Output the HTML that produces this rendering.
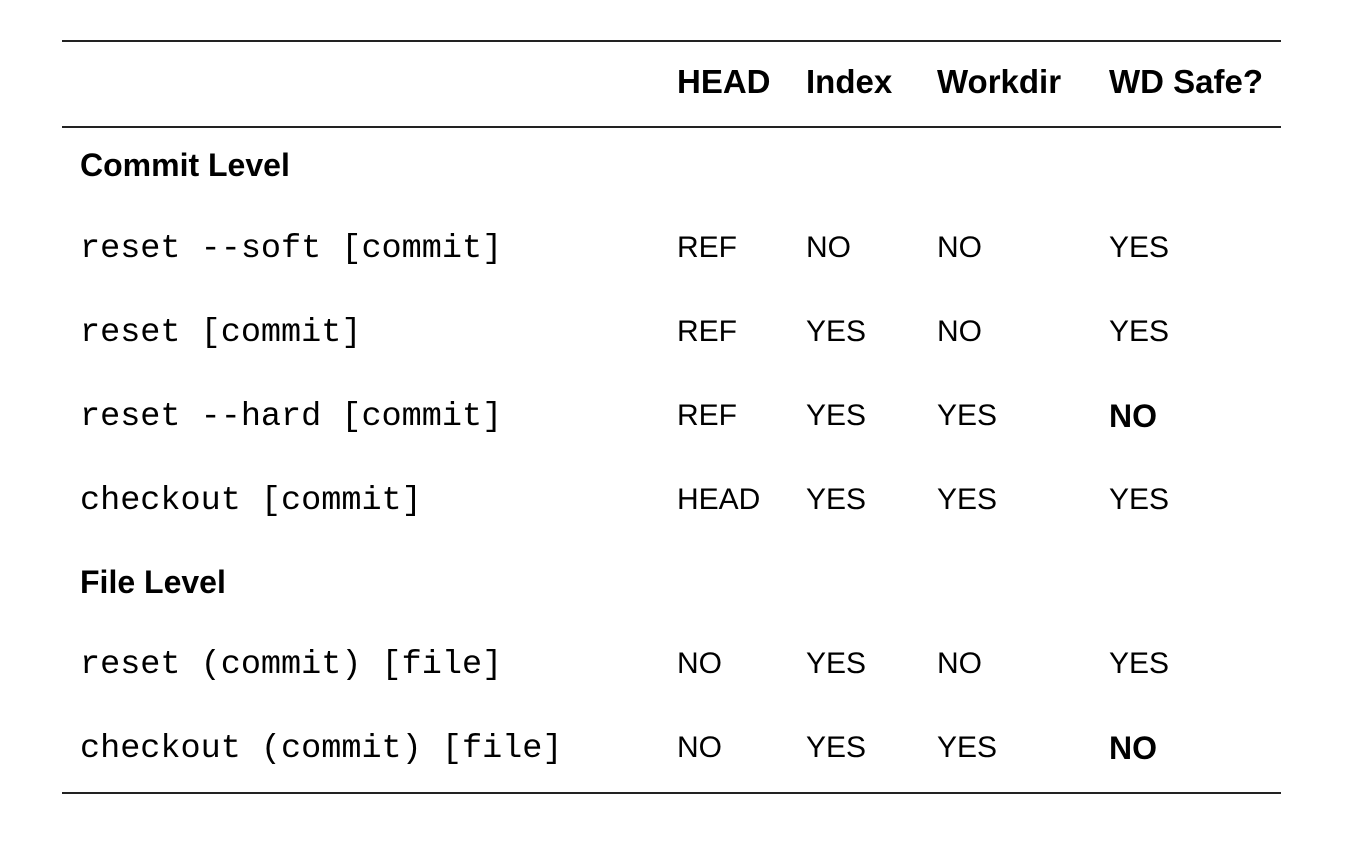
<!DOCTYPE html>
<html><head><meta charset="utf-8"><style>
body{margin:0;width:1350px;height:846px;background:#fff;position:relative;overflow:hidden;font-family:"Liberation Sans",sans-serif;color:#000}
.l{position:absolute;left:62px;width:1219px;height:2px;background:#222}
.t{position:absolute;height:40px;line-height:40px;font-size:30px;white-space:nowrap}
.b{font-weight:bold;font-size:32px}
.h{font-size:33px}
.m{font-family:"Liberation Mono",monospace;font-size:33.5px}
</style></head><body>
<div class="l" style="top:40px"></div>
<div class="l" style="top:126px"></div>
<div class="l" style="top:792px"></div>

<div class="t b h" style="left:677px;top:62px">HEAD</div>
<div class="t b h" style="left:806px;top:62px">Index</div>
<div class="t b h" style="left:937px;top:62px">Workdir</div>
<div class="t b h" style="left:1109px;top:62px">WD Safe?</div>

<div class="t b" style="left:80px;top:145px">Commit Level</div>

<div class="t m" style="left:80px;top:229px">reset --soft [commit]</div>
<div class="t" style="left:677px;top:228px">REF</div>
<div class="t" style="left:806px;top:228px">NO</div>
<div class="t" style="left:937px;top:228px">NO</div>
<div class="t" style="left:1109px;top:228px">YES</div>

<div class="t m" style="left:80px;top:313px">reset [commit]</div>
<div class="t" style="left:677px;top:312px">REF</div>
<div class="t" style="left:806px;top:312px">YES</div>
<div class="t" style="left:937px;top:312px">NO</div>
<div class="t" style="left:1109px;top:312px">YES</div>

<div class="t m" style="left:80px;top:397px">reset --hard [commit]</div>
<div class="t" style="left:677px;top:396px">REF</div>
<div class="t" style="left:806px;top:396px">YES</div>
<div class="t" style="left:937px;top:396px">YES</div>
<div class="t b" style="left:1109px;top:396px">NO</div>

<div class="t m" style="left:80px;top:481px">checkout [commit]</div>
<div class="t" style="left:677px;top:480px">HEAD</div>
<div class="t" style="left:806px;top:480px">YES</div>
<div class="t" style="left:937px;top:480px">YES</div>
<div class="t" style="left:1109px;top:480px">YES</div>

<div class="t b" style="left:80px;top:562px">File Level</div>

<div class="t m" style="left:80px;top:645px">reset (commit) [file]</div>
<div class="t" style="left:677px;top:644px">NO</div>
<div class="t" style="left:806px;top:644px">YES</div>
<div class="t" style="left:937px;top:644px">NO</div>
<div class="t" style="left:1109px;top:644px">YES</div>

<div class="t m" style="left:80px;top:729px">checkout (commit) [file]</div>
<div class="t" style="left:677px;top:728px">NO</div>
<div class="t" style="left:806px;top:728px">YES</div>
<div class="t" style="left:937px;top:728px">YES</div>
<div class="t b" style="left:1109px;top:728px">NO</div>
</body></html>
